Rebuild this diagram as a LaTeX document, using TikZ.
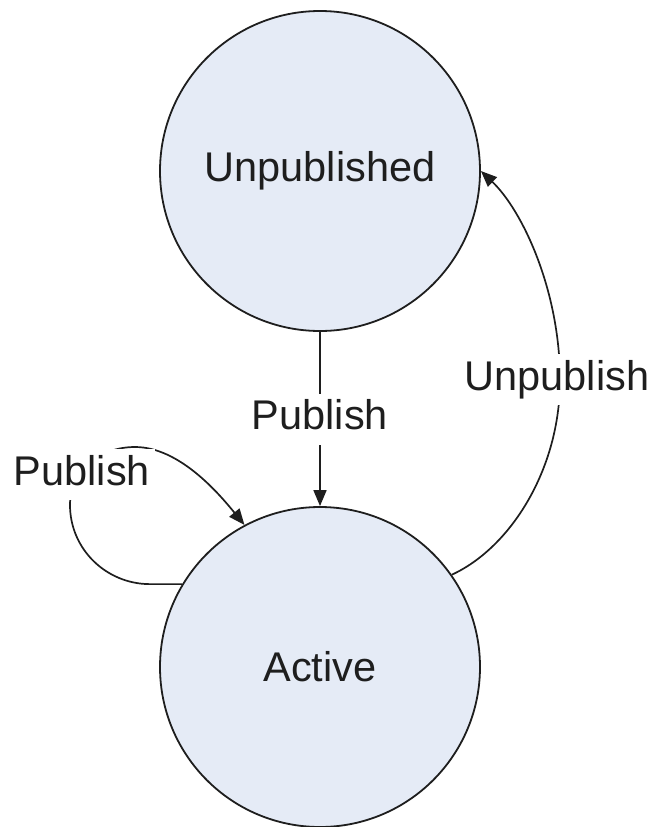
\documentclass[tikz,border=0pt]{standalone}
\usepackage{fontspec}
\setmainfont{Liberation Sans}
\usetikzlibrary{arrows.meta}
\definecolor{statefill}{HTML}{E5EBF6}
\definecolor{ink}{HTML}{1E1E1E}
\begin{document}
\begin{tikzpicture}[x=1pt,y=-1pt,
  state/.style={circle,draw=ink,line width=1.8pt,fill=statefill,
    minimum size=320pt,inner sep=0pt,font=\fontsize{41.5}{50}\selectfont,text=ink},
  trans/.style={draw=ink,line width=1.7pt,-{Triangle[length=16pt,width=13pt]}},
  lbl/.style={fill=white,inner sep=5pt,text height=31pt,text depth=10pt,
    font=\fontsize{41.5}{50}\selectfont,text=ink}]
  \useasboundingbox (0,0) rectangle (656,827);
  \node[state] (unpub) at (320,171) {Unpublished};
  \node[state] (active) at (320,667) {Active};

  % publish: unpublished -> active
  \draw[trans] (unpub.south) -- node[lbl] (lpub) {Publish} (active.north);

  % publish again while active
  \draw[trans] (active.149) -- ++(-32,0)
     .. controls +(-44,0) and (70,549) .. (70,505)
     .. controls (70,470) and (100,447) .. (135,447)
     .. controls (180,447) and (220,495) .. (active.118);
  \node[lbl,anchor=base] (lself) at (82,485) {Publish};

  % unpublish: active -> unpublished
  \draw[trans] (active.35) .. controls (510,548) and (560,470) .. (560,380)
     .. controls (560,290) and (522,210) .. (unpub.0);
  \node[lbl,anchor=base] (lunpub) at (557,390) {Unpublish};
\end{tikzpicture}
\end{document}
